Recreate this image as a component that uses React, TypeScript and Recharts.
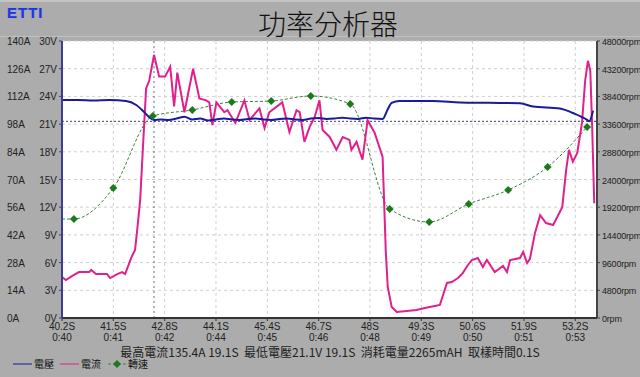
import { LineChart, Line, XAxis, YAxis, CartesianGrid, ReferenceLine } from "recharts";

const xTicks = [40.2, 41.5, 42.8, 44.1, 45.4, 46.7, 48.0, 49.3, 50.6, 51.9, 53.2];
const xTickSec = ["40.2S", "41.5S", "42.8S", "44.1S", "45.4S", "46.7S", "48S", "49.3S", "50.6S", "51.9S", "53.2S"];
const xTickClock = ["0:40", "0:41", "0:42", "0:44", "0:45", "0:46", "0:48", "0:49", "0:50", "0:51", "0:53"];

const ampTicks = [0, 14, 28, 42, 56, 70, 84, 98, 112, 126, 140];
const voltTicks = [0, 3, 6, 9, 12, 15, 18, 21, 24, 27, 30];
const rpmTicks = [0, 4800, 9600, 14400, 19200, 24000, 28800, 33600, 38400, 43200, 48000];

// 電流 (A)
const currentTime = [
  40.2, 40.3, 40.45, 40.63, 40.89, 40.94, 41.06, 41.34, 41.42, 41.6, 41.72, 41.8, 41.95, 42.05, 42.1, 42.18,
  42.26, 42.33, 42.41, 42.53, 42.66, 42.81, 42.94, 43.04, 43.12, 43.3, 43.52, 43.68, 43.85, 43.93, 44.01,
  44.11, 44.31, 44.39, 44.59, 44.82, 44.95, 45.2, 45.33, 45.45, 45.78, 45.96, 46.14, 46.22, 46.34, 46.47,
  46.6, 46.72, 46.8, 46.98, 47.15, 47.31, 47.48, 47.53, 47.66, 47.81, 47.94, 48.12, 48.32, 48.4, 48.45,
  48.55, 48.68, 48.93, 49.18, 49.39, 49.64, 49.77, 49.95, 50.07, 50.23, 50.35, 50.48, 50.58, 50.73, 50.86,
  50.96, 51.16, 51.37, 51.47, 51.55, 51.8, 51.88, 51.98, 52.05, 52.18, 52.31, 52.46, 52.64, 52.87, 52.97,
  53.04, 53.14, 53.25, 53.37, 53.45, 53.52, 53.58, 53.63, 53.68,
];
const currentAmps = [
  20.7, 19.2, 21.2, 23.2, 23.2, 24.3, 22.2, 22.2, 20.2, 22.2, 23.2, 22.2, 30.3, 34.4, 43.5, 59.6,
  90, 116, 120, 133, 122, 122, 127, 107, 124, 104, 126, 111, 110, 109, 97.5,
  109, 104, 105, 98.6, 110, 100, 106, 96, 104, 109, 94, 105, 104, 89, 96.5,
  101.6, 110, 95, 91.5, 85, 91.5, 90, 85, 89, 80, 100, 93.5, 81.4, 34, 15.7,
  5.6, 3.0, 3.5, 4.0, 5.1, 6.1, 6.6, 17.7, 18.2, 20.2, 22.7, 26.8, 29.3, 30.3, 25.8,
  29.3, 23.2, 26.3, 23.2, 29.3, 30.3, 33.4, 27.8, 29.8, 43, 52, 48, 47, 56, 75,
  85, 79, 83.4, 98.6, 120, 130, 125, 95, 58,
];

// 電壓 (V)
const voltTime = [
  40.2, 40.6, 41.0, 41.4, 41.82, 42.08, 42.28, 42.41, 42.53, 42.7, 42.9, 43.1, 43.3, 43.5, 43.7, 43.9, 44.1,
  44.3, 44.5, 44.7, 44.9, 45.1, 45.3, 45.5, 45.7, 45.9, 46.1, 46.3, 46.5, 46.7, 46.9, 47.1, 47.3, 47.5,
  47.7, 47.9, 48.1, 48.32, 48.45, 48.55, 48.75, 49.59, 50.28, 51.0, 51.8, 52.13, 52.81, 53.14, 53.5,
  53.55, 53.65,
];
const voltValue = [
  23.6, 23.6, 23.55, 23.6, 23.5, 23.07, 22.3, 21.74, 21.45, 21.5, 21.45, 21.6, 21.8, 21.5, 21.6, 21.4, 21.5,
  21.6, 21.5, 21.45, 21.55, 21.6, 21.5, 21.45, 21.55, 21.6, 21.5, 21.45, 21.6, 21.65, 21.55, 21.6, 21.7, 21.6,
  21.55, 21.7, 21.6, 21.55, 22.6, 23.3, 23.5, 23.5, 23.35, 23.3, 23.25, 22.9, 22.7, 22.2, 21.45,
  21.3, 22.45,
];

// 轉速 (rpm)
const rpmTime = [40.2, 40.5, 41.5, 42.5, 43.5, 44.5, 45.5, 46.5, 47.5, 48.5, 49.5, 50.5, 51.5, 52.5, 53.5];
const rpmValue = [17150, 17150, 22530, 35000, 36050, 37430, 37600, 38470, 37090, 18890, 16640, 19760, 22180, 26170, 33100];

const currentData = currentTime.map((t, i) => ({ t, amps: currentAmps[i] }));
const voltData = voltTime.map((t, i) => ({ t, volt: voltValue[i] }));
const rpmData = rpmTime.map((t, i) => ({ t, rpm: rpmValue[i] }));

const FONT = "Arial, 'Liberation Sans', sans-serif";
const CJK = "'Noto Sans CJK TC', 'Noto Sans CJK SC', sans-serif";

const XTick = ({ x, y, payload }: any) => {
  const i = xTicks.indexOf(payload.value);
  return (
    <text x={x} y={y} textAnchor="middle" fontSize={10} fill="#222" fontFamily={FONT}>
      <tspan x={x} dy={7}>{xTickSec[i]}</tspan>
      <tspan x={x} dy={11}>{xTickClock[i]}</tspan>
    </text>
  );
};

// left side shows both scales: amps (outer column) and volts (next to the axis)
const LeftTick = ({ y, payload }: any) => {
  const i = voltTicks.indexOf(payload.value);
  return (
    <g>
      <text x={7} y={y} dy={4} fontSize={10} fill="#222" fontFamily={FONT}>
        {ampTicks[i]}A
      </text>
      <text x={57} y={y} dy={4} textAnchor="end" fontSize={10} fill="#222" fontFamily={FONT}>
        {payload.value}V
      </text>
    </g>
  );
};

const RpmTick = ({ x, y, payload }: any) => (
  <text x={x} y={y} dy={4} textAnchor="start" fontSize={9} fill="#222" fontFamily={FONT} letterSpacing={-0.2}>
    {payload.value}rpm
  </text>
);

const Diamond = ({ cx, cy, index }: any) => {
  if (index === 0 || cx == null) return <g key={`d${index}`} />;
  return (
    <polygon
      key={`d${index}`}
      points={`${cx},${cy - 4} ${cx + 4},${cy} ${cx},${cy + 4} ${cx - 4},${cy}`}
      fill="#1c7a1c"
    />
  );
};

export default function App() {
  return (
    <div
      style={{
        position: "absolute",
        left: 0,
        top: 0,
        width: 640,
        height: 377,
        background: "#acacac",
        overflow: "hidden",
      }}
    >
      <div style={{ position: "absolute", left: 0, top: 0, width: 640, height: 2, background: "#c4c4c4" }} />
      <div style={{ position: "absolute", left: 0, top: 36, width: 640, height: 1, background: "#c0c0c0" }} />
      <div
        style={{
          position: "absolute",
          left: 7,
          top: 4,
          fontFamily: FONT,
          fontWeight: "bold",
          fontSize: 15,
          color: "#1f35e0",
          letterSpacing: 1,
          textShadow: "0 0 1px #6f80ff",
        }}
      >
        ETTI
      </div>
      <div
        style={{
          position: "absolute",
          left: 8,
          top: 7,
          width: 640,
          textAlign: "center",
          fontFamily: CJK,
          fontSize: 28,
          fontWeight: 300,
          color: "#111",
          lineHeight: "32px",
        }}
      >
        功率分析器
      </div>
      <LineChart width={640} height={377} margin={{ top: 41, right: 0, left: 0, bottom: 29 }}>
        <CartesianGrid
          yAxisId="V"
          stroke="#cfcfcf"
          strokeDasharray="3 3"
          fill="#ffffff"
          vertical={true}
          horizontal={true}
        />
        <XAxis
          dataKey="t"
          type="number"
          domain={[40.2, 53.75]}
          ticks={xTicks}
          allowDataOverflow
          height={30}
          tick={<XTick />}
          tickSize={3}
          axisLine={{ stroke: "#333", strokeWidth: 2 }}
          tickLine={{ stroke: "#333" }}
          interval={0}
        />
        <YAxis yAxisId="A" orientation="left" hide width={0} domain={[0, 140]} ticks={ampTicks} />
        <YAxis
          yAxisId="V"
          orientation="left"
          width={62}
          domain={[0, 30]}
          ticks={voltTicks}
          tick={<LeftTick />}
          tickSize={3}
          axisLine={{ stroke: "#3c3c90", strokeWidth: 2 }}
          tickLine={{ stroke: "#3c3c90" }}
          interval={0}
        />
        <YAxis
          yAxisId="rpm"
          orientation="right"
          width={43}
          domain={[0, 48000]}
          ticks={rpmTicks}
          tick={<RpmTick />}
          tickSize={3}
          axisLine={{ stroke: "#444", strokeWidth: 2 }}
          tickLine={{ stroke: "#444" }}
          interval={0}
        />
        <ReferenceLine yAxisId="V" x={42.53} stroke="#6a6a9a" strokeDasharray="2 3" />
        <ReferenceLine yAxisId="V" y={21.3} stroke="#3a3a80" strokeDasharray="2 2" />
        <Line
          yAxisId="rpm"
          data={rpmData}
          dataKey="rpm"
          type="monotone"
          stroke="#3f7f3f"
          strokeWidth={1}
          strokeDasharray="3 2"
          dot={<Diamond />}
          activeDot={false}
          isAnimationActive={false}
        />
        <Line
          yAxisId="A"
          data={currentData}
          dataKey="amps"
          type="linear"
          stroke="#e0208c"
          strokeWidth={2}
          dot={false}
          activeDot={false}
          isAnimationActive={false}
        />
        <Line
          yAxisId="V"
          data={voltData}
          dataKey="volt"
          type="monotone"
          stroke="#1a1a9a"
          strokeWidth={2}
          dot={false}
          activeDot={false}
          isAnimationActive={false}
        />
      </LineChart>
      <div
        style={{
          position: "absolute",
          left: 0,
          top: 344,
          width: 660,
          textAlign: "center",
          fontFamily: CJK,
          fontSize: 12,
          color: "#222",
          lineHeight: "16px",
          whiteSpace: "pre",
        }}
      >
        {"最高電流135.4A 19.1S  最低電壓21.1V 19.1S  消耗電量2265mAH  取樣時間0.1S"}
      </div>
      <svg style={{ position: "absolute", left: 0, top: 357 }} width={160} height={16}>
        <line x1={13} y1={7} x2={32} y2={7} stroke="#1a1a9a" strokeWidth={1} />
        <text x={34} y={11} fontSize={10} fontFamily={CJK} fill="#111">電壓</text>
        <line x1={60} y1={7} x2={79} y2={7} stroke="#e0208c" strokeWidth={1} />
        <text x={81} y={11} fontSize={10} fontFamily={CJK} fill="#111">電流</text>
        <line x1={108} y1={7} x2={126} y2={7} stroke="#3f7f3f" strokeWidth={1} strokeDasharray="3 2" />
        <polygon points="117,3 121,7 117,11 113,7" fill="#1c7a1c" />
        <text x={128} y={11} fontSize={10} fontFamily={CJK} fill="#111">轉速</text>
      </svg>
    </div>
  );
}
